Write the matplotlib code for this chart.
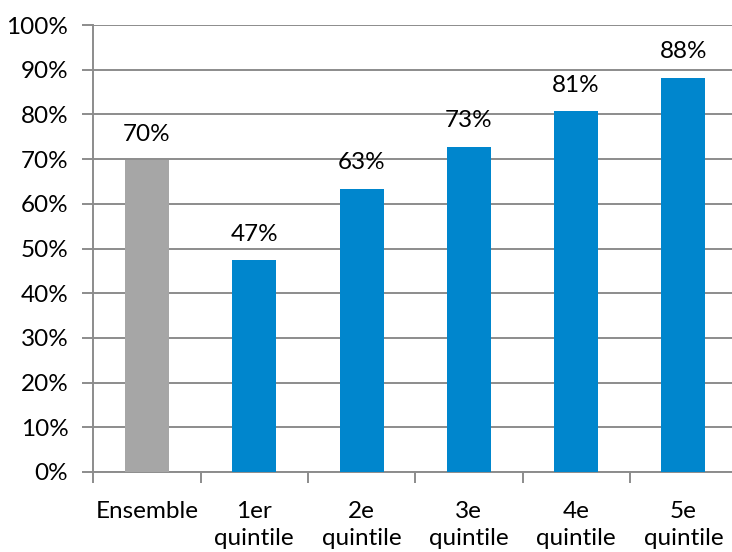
import matplotlib
matplotlib.use("Agg")
import matplotlib.pyplot as plt
from matplotlib.ticker import FixedLocator, NullFormatter

plt.rcParams['font.family'] = ['Lato', 'DejaVu Sans']

categories = ["Ensemble", "1er\nquintile", "2e\nquintile", "3e\nquintile", "4e\nquintile", "5e\nquintile"]
values = [69.8, 47.4, 63.4, 72.8, 80.7, 88.2]
colors = ["#A6A6A6", "#0086CD", "#0086CD", "#0086CD", "#0086CD", "#0086CD"]
yticks = [0, 10, 20, 30, 40, 50, 60, 70, 80, 90, 100]

FS = 17.5

fig = plt.figure(figsize=(7.32, 5.52), dpi=100)
ax = fig.add_axes([93.3 / 732, 80 / 552, 1 - 93.3 / 732, 447 / 552])

x = list(range(len(categories)))
ax.set_xlim(-0.5, -0.5 + 638.7 / 107.3)
ax.set_ylim(0, 100)

grid_c = "#8C8C8C"
ax.set_axisbelow(True)
ax.yaxis.grid(True, color=grid_c, linewidth=1.4)

bars = ax.bar(x, values, width=0.41, color=colors, zorder=3)
for xi, v in zip(x, values):
    ax.annotate(f"{round(v):d}%", (xi, v), xytext=(0, 11), textcoords="offset points",
                ha="center", va="bottom", fontsize=FS, color="#000000")

ax.set_yticks(yticks)
ax.set_yticklabels([f"{t}%" for t in yticks], fontsize=FS)
ax.set_xticks(x)
ax.set_xticklabels(categories, fontsize=FS, linespacing=1.32)
ax.tick_params(axis="x", which="major", length=0, pad=21)
ax.xaxis.set_minor_locator(FixedLocator([i - 0.5 for i in range(len(categories))]))
ax.xaxis.set_minor_formatter(NullFormatter())
ax.tick_params(axis="x", which="minor", length=8, width=1.4, color=grid_c, direction="out")
ax.tick_params(axis="y", length=8, width=1.4, color=grid_c, direction="out", pad=10)

for side in ("top", "right"):
    ax.spines[side].set_visible(False)
for side in ("left", "bottom"):
    ax.spines[side].set_color(grid_c)
    ax.spines[side].set_linewidth(1.4)

fig.savefig("out.png", dpi=100)
